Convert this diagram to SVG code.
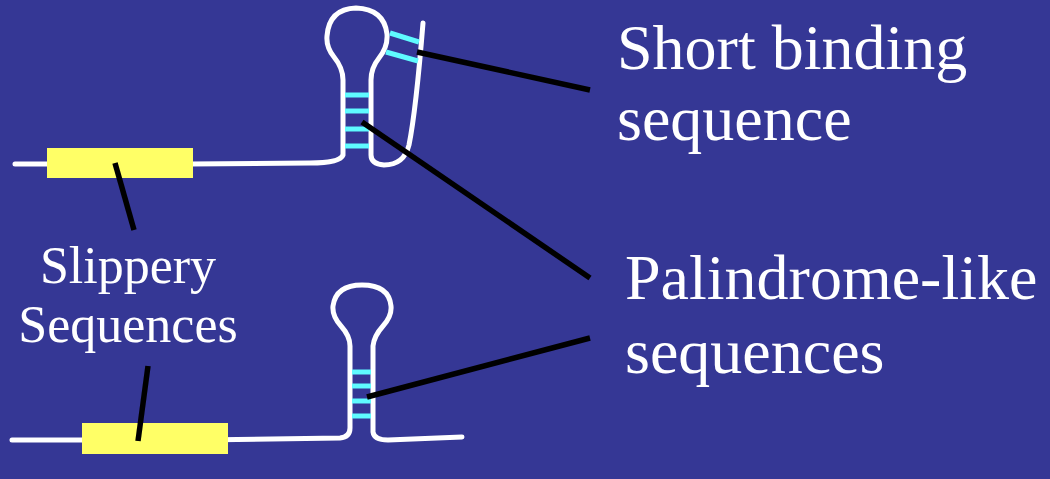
<svg xmlns="http://www.w3.org/2000/svg" width="1050" height="479" viewBox="0 0 1050 479">
  <style>
    .strand { fill: none; stroke: #ffffff; stroke-width: 5; stroke-linecap: round; stroke-linejoin: round; }
    .pair { stroke: #5ffbff; stroke-width: 5; }
    .pointer { stroke: #000000; stroke-width: 5.5; }
    .slip { fill: #ffff66; }
    .label { fill: #ffffff; font-family: "Liberation Serif", "Times New Roman", serif; }
    .big { font-size: 64px; }
    .small { font-size: 52px; }
  </style>
  <rect x="0" y="0" width="1050" height="479" fill="#353795"/>

  <!-- upper construct: mRNA with slippery site, hairpin and downstream pairing strand -->
  <g id="upper-construct">
    <path class="strand" d="M15,164 L190,164 L310,163 Q340,163 343,155 L343,80 Q343,68 334,57 Q326,47 327,36 Q329,9 356,8 Q384,9 387,34 Q388,47 379,58 Q371,68 371,80 L371,155 Q371,164 384,165 Q404,165 409,145 Q416,110 423,23"/>
    <g class="pair">
      <line x1="345" y1="95" x2="369" y2="95"/>
      <line x1="345" y1="111" x2="369" y2="111"/>
      <line x1="345" y1="129" x2="369" y2="129"/>
      <line x1="345" y1="146" x2="369" y2="146"/>
      <line x1="390" y1="33" x2="419" y2="42"/>
      <line x1="386" y1="52" x2="418" y2="61"/>
    </g>
    <rect class="slip" x="47" y="148" width="146" height="30"/>
  </g>

  <!-- lower construct: mRNA with slippery site and a plain hairpin -->
  <g id="lower-construct">
    <path class="strand" d="M12,440 L200,440 L340,438 Q350,437 350,428 L350,346 Q350,336 341,326 Q332,316 333,306 Q336,285 362,285 Q389,285 391,306 Q392,316 383,326 Q374,336 373,346 L373,432 Q374,440 388,440 L462,437"/>
    <g class="pair">
      <line x1="352" y1="372" x2="371" y2="372"/>
      <line x1="352" y1="386" x2="371" y2="386"/>
      <line x1="352" y1="401" x2="371" y2="401"/>
      <line x1="352" y1="416" x2="371" y2="416"/>
    </g>
    <rect class="slip" x="82" y="423" width="146" height="31"/>
  </g>

  <!-- callout lines -->
  <g id="connectors" class="pointer">
    <line x1="417" y1="52" x2="590" y2="90"/>
    <line x1="362" y1="122" x2="590" y2="278"/>
    <line x1="367" y1="397" x2="590" y2="338"/>
    <line x1="115" y1="163" x2="134" y2="230"/>
    <line x1="148" y1="366" x2="138" y2="441"/>
  </g>

  <g id="label-binding">
    <text class="label big" x="617" y="69">Short binding</text>
    <text class="label big" x="617" y="140">sequence</text>
  </g>
  <g id="label-palindrome">
    <text class="label big" x="625" y="299">Palindrome-like</text>
    <text class="label big" x="625" y="373">sequences</text>
  </g>
  <g id="label-slippery">
    <text class="label small" x="128" y="283" text-anchor="middle">Slippery</text>
    <text class="label small" x="128" y="342" text-anchor="middle">Sequences</text>
  </g>
</svg>
